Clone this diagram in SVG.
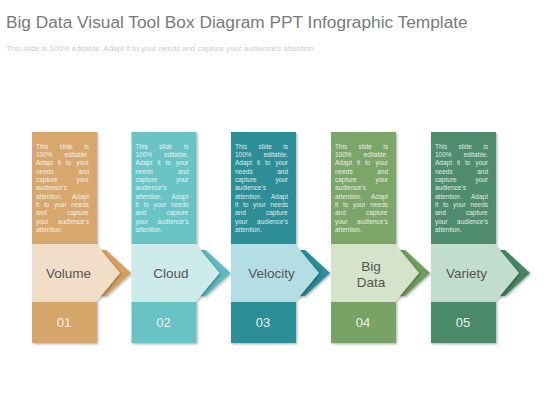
<svg xmlns="http://www.w3.org/2000/svg" width="560" height="420" viewBox="0 0 560 420">
<defs>
<filter id="sh" x="-20%" y="-20%" width="140%" height="140%">
<feDropShadow dx="1.2" dy="1.2" stdDeviation="1.2" flood-color="#000" flood-opacity="0.3"/>
</filter>
<style>
.title{font-family:"Liberation Sans",Arial,sans-serif;font-size:17.3px;fill:#7a7a7a}
.sub{font-family:"Liberation Sans",Arial,sans-serif;font-size:7.9px;fill:#cccccc}
.body{font-family:"Liberation Sans",Arial,sans-serif;font-size:6.5px;fill:#ffffff;fill-opacity:0.85}
.lbl{font-family:"Liberation Sans",Arial,sans-serif;font-size:13.5px;fill:#555;text-anchor:middle}
.num{font-family:"Liberation Sans",Arial,sans-serif;font-size:13px;fill:#fff;fill-opacity:0.9;text-anchor:middle}
</style>
</defs>
<rect width="560" height="420" fill="#ffffff"/>
<text class="title" x="6" y="28">Big Data Visual Tool Box Diagram PPT Infographic Template</text>
<text class="sub" x="6" y="51">This slide is 100% editable. Adapt it to your needs and capture your audience's attention.</text>

<g id="connectors"></g>

<g id="node-volume">
<rect x="32" y="132" width="65" height="112" fill="#D8A76E" filter="url(#sh)"/>
<polygon points="100,250 106,250 131,273 106,296 100,296" fill="#D4A062" filter="url(#sh)"/>
<polygon points="32,244 96,244 120,273 96,302 32,302" fill="#F2DEC8" filter="url(#sh)"/>
<rect x="32" y="302" width="65" height="41" fill="#D6A66A" filter="url(#sh)"/>
<g class="body">
<text y="148.5"><tspan x="36">This</tspan><tspan x="59.6">slide</tspan><tspan x="84.3">is</tspan></text>
<text y="156.9"><tspan x="36">100%</tspan><tspan x="64.4">editable.</tspan></text>
<text y="165.2"><tspan x="36">Adapt</tspan><tspan x="57.9">it</tspan><tspan x="66">to</tspan><tspan x="76.4">your</tspan></text>
<text y="173.6"><tspan x="36">needs</tspan><tspan x="78.2">and</tspan></text>
<text y="181.9"><tspan x="36">capture</tspan><tspan x="76.4">your</tspan></text>
<text x="36" y="190.3">audience's</text>
<text y="198.6"><tspan x="36">attention.</tspan><tspan x="72">Adapt</tspan></text>
<text y="207"><tspan x="36">it</tspan><tspan x="43.9">to</tspan><tspan x="54">your</tspan><tspan x="71.3">needs</tspan></text>
<text y="215.3"><tspan x="36">and</tspan><tspan x="67">capture</tspan></text>
<text y="223.7"><tspan x="36">your</tspan><tspan x="58.1">audience's</tspan></text>
<text x="36" y="232">attention.</text>
</g>
<text class="lbl" x="68.5" y="278">Volume</text>
<text class="num" x="64" y="327">01</text>
</g>

<g id="node-cloud" transform="translate(99.5,0)">
<rect x="32" y="132" width="65" height="112" fill="#6BC4C6" filter="url(#sh)"/>
<polygon points="100,250 106,250 131,273 106,296 100,296" fill="#5BB9BD" filter="url(#sh)"/>
<polygon points="32,244 96,244 120,273 96,302 32,302" fill="#CDEBEA" filter="url(#sh)"/>
<rect x="32" y="302" width="65" height="41" fill="#69C2C4" filter="url(#sh)"/>
<g class="body">
<text y="148.5"><tspan x="36">This</tspan><tspan x="59.6">slide</tspan><tspan x="84.3">is</tspan></text>
<text y="156.9"><tspan x="36">100%</tspan><tspan x="64.4">editable.</tspan></text>
<text y="165.2"><tspan x="36">Adapt</tspan><tspan x="57.9">it</tspan><tspan x="66">to</tspan><tspan x="76.4">your</tspan></text>
<text y="173.6"><tspan x="36">needs</tspan><tspan x="78.2">and</tspan></text>
<text y="181.9"><tspan x="36">capture</tspan><tspan x="76.4">your</tspan></text>
<text x="36" y="190.3">audience's</text>
<text y="198.6"><tspan x="36">attention.</tspan><tspan x="72">Adapt</tspan></text>
<text y="207"><tspan x="36">it</tspan><tspan x="43.9">to</tspan><tspan x="54">your</tspan><tspan x="71.3">needs</tspan></text>
<text y="215.3"><tspan x="36">and</tspan><tspan x="67">capture</tspan></text>
<text y="223.7"><tspan x="36">your</tspan><tspan x="58.1">audience's</tspan></text>
<text x="36" y="232">attention.</text>
</g>
<text class="lbl" x="71.5" y="278">Cloud</text>
<text class="num" x="64" y="327">02</text>
</g>

<g id="node-velocity" transform="translate(199,0)">
<rect x="32" y="132" width="65" height="112" fill="#2F8E98" filter="url(#sh)"/>
<polygon points="100,250 106,250 131,273 106,296 100,296" fill="#2A8C97" filter="url(#sh)"/>
<polygon points="32,244 96,244 120,273 96,302 32,302" fill="#B3DEE4" filter="url(#sh)"/>
<rect x="32" y="302" width="65" height="41" fill="#2F8E98" filter="url(#sh)"/>
<g class="body">
<text y="148.5"><tspan x="36">This</tspan><tspan x="59.6">slide</tspan><tspan x="84.3">is</tspan></text>
<text y="156.9"><tspan x="36">100%</tspan><tspan x="64.4">editable.</tspan></text>
<text y="165.2"><tspan x="36">Adapt</tspan><tspan x="57.9">it</tspan><tspan x="66">to</tspan><tspan x="76.4">your</tspan></text>
<text y="173.6"><tspan x="36">needs</tspan><tspan x="78.2">and</tspan></text>
<text y="181.9"><tspan x="36">capture</tspan><tspan x="76.4">your</tspan></text>
<text x="36" y="190.3">audience's</text>
<text y="198.6"><tspan x="36">attention.</tspan><tspan x="72">Adapt</tspan></text>
<text y="207"><tspan x="36">it</tspan><tspan x="43.9">to</tspan><tspan x="54">your</tspan><tspan x="71.3">needs</tspan></text>
<text y="215.3"><tspan x="36">and</tspan><tspan x="67">capture</tspan></text>
<text y="223.7"><tspan x="36">your</tspan><tspan x="58.1">audience's</tspan></text>
<text x="36" y="232">attention.</text>
</g>
<text class="lbl" x="72.5" y="278">Velocity</text>
<text class="num" x="64" y="327">03</text>
</g>

<g id="node-bigdata" transform="translate(299,0)">
<rect x="32" y="132" width="65" height="112" fill="#7CA569" filter="url(#sh)"/>
<polygon points="100,250 106,250 131,273 106,296 100,296" fill="#6F9C5F" filter="url(#sh)"/>
<polygon points="32,244 96,244 120,273 96,302 32,302" fill="#D4E3CA" filter="url(#sh)"/>
<rect x="32" y="302" width="65" height="41" fill="#79A366" filter="url(#sh)"/>
<g class="body">
<text y="148.5"><tspan x="36">This</tspan><tspan x="59.6">slide</tspan><tspan x="84.3">is</tspan></text>
<text y="156.9"><tspan x="36">100%</tspan><tspan x="64.4">editable.</tspan></text>
<text y="165.2"><tspan x="36">Adapt</tspan><tspan x="57.9">it</tspan><tspan x="66">to</tspan><tspan x="76.4">your</tspan></text>
<text y="173.6"><tspan x="36">needs</tspan><tspan x="78.2">and</tspan></text>
<text y="181.9"><tspan x="36">capture</tspan><tspan x="76.4">your</tspan></text>
<text x="36" y="190.3">audience's</text>
<text y="198.6"><tspan x="36">attention.</tspan><tspan x="72">Adapt</tspan></text>
<text y="207"><tspan x="36">it</tspan><tspan x="43.9">to</tspan><tspan x="54">your</tspan><tspan x="71.3">needs</tspan></text>
<text y="215.3"><tspan x="36">and</tspan><tspan x="67">capture</tspan></text>
<text y="223.7"><tspan x="36">your</tspan><tspan x="58.1">audience's</tspan></text>
<text x="36" y="232">attention.</text>
</g>
<text class="lbl" x="72" y="271">Big</text>
<text class="lbl" x="72" y="287">Data</text>
<text class="num" x="64" y="327">04</text>
</g>

<g id="node-variety" transform="translate(399,0)">
<rect x="32" y="132" width="65" height="112" fill="#4F8C6D" filter="url(#sh)"/>
<polygon points="100,250 106,250 131,273 106,296 100,296" fill="#458565" filter="url(#sh)"/>
<polygon points="32,244 96,244 120,273 96,302 32,302" fill="#C0DDCD" filter="url(#sh)"/>
<rect x="32" y="302" width="65" height="41" fill="#4C8A69" filter="url(#sh)"/>
<g class="body">
<text y="148.5"><tspan x="36">This</tspan><tspan x="59.6">slide</tspan><tspan x="84.3">is</tspan></text>
<text y="156.9"><tspan x="36">100%</tspan><tspan x="64.4">editable.</tspan></text>
<text y="165.2"><tspan x="36">Adapt</tspan><tspan x="57.9">it</tspan><tspan x="66">to</tspan><tspan x="76.4">your</tspan></text>
<text y="173.6"><tspan x="36">needs</tspan><tspan x="78.2">and</tspan></text>
<text y="181.9"><tspan x="36">capture</tspan><tspan x="76.4">your</tspan></text>
<text x="36" y="190.3">audience's</text>
<text y="198.6"><tspan x="36">attention.</tspan><tspan x="72">Adapt</tspan></text>
<text y="207"><tspan x="36">it</tspan><tspan x="43.9">to</tspan><tspan x="54">your</tspan><tspan x="71.3">needs</tspan></text>
<text y="215.3"><tspan x="36">and</tspan><tspan x="67">capture</tspan></text>
<text y="223.7"><tspan x="36">your</tspan><tspan x="58.1">audience's</tspan></text>
<text x="36" y="232">attention.</text>
</g>
<text class="lbl" x="67.5" y="278">Variety</text>
<text class="num" x="64" y="327">05</text>
</g>
</svg>
